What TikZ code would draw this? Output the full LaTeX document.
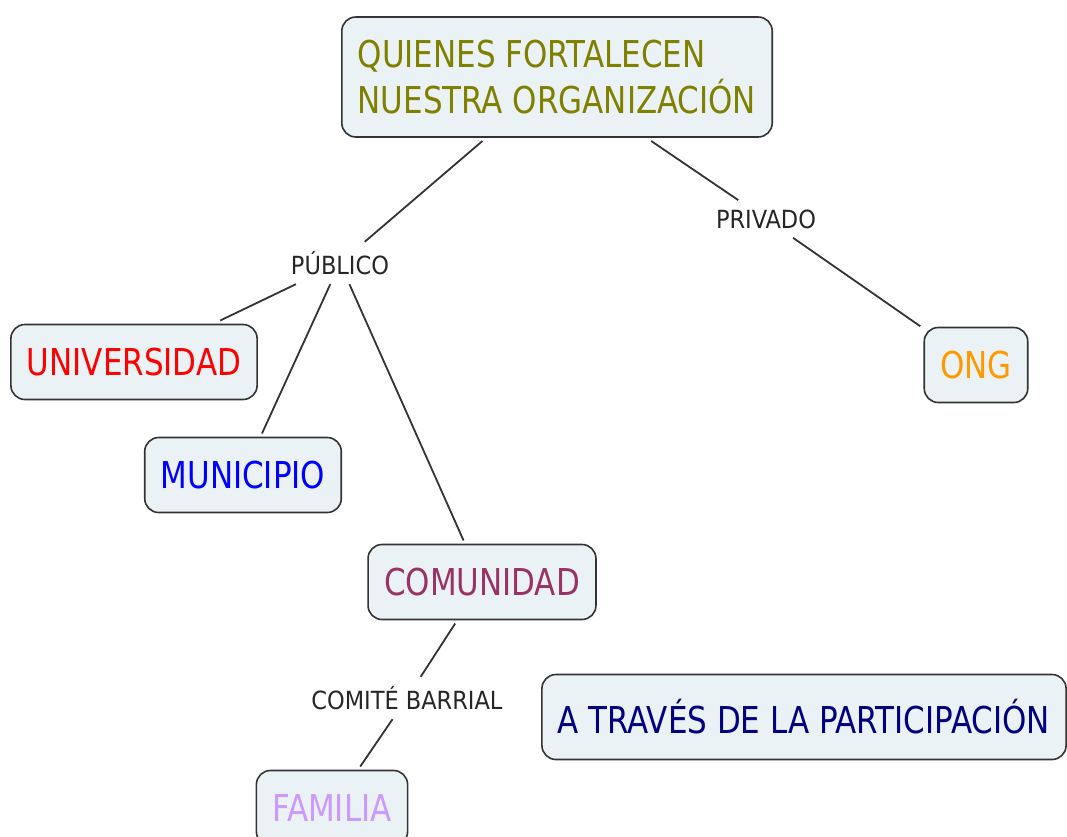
\documentclass[tikz,border=0pt]{standalone}
\usepackage{fontspec}
\setmainfont[FakeStretch=0.93]{DejaVu Sans Condensed}
\newfontfamily\labelfont{DejaVu Sans Condensed}
\usepackage{xcolor}
\usetikzlibrary{positioning}

\definecolor{boxfill}{RGB}{235,242,245}
\definecolor{olivetext}{RGB}{128,128,0}
\definecolor{plumtext}{RGB}{153,51,102}
\definecolor{lilactext}{RGB}{204,153,255}
\definecolor{orangetext}{RGB}{255,153,0}

\begin{document}
\begin{tikzpicture}[x=1pt,y=-1pt,thick,
                    concept/.style={rectangle,rounded corners=14pt,draw=black!80,line width=1.6pt,
                      fill=boxfill,font=\fontsize{37}{46}\selectfont,inner xsep=16pt,
                      minimum height=75pt,outer sep=4pt},
                    link/.style={font=\labelfont\fontsize{25}{30}\selectfont,text=black!85,inner xsep=4pt,inner ysep=9pt}]
\useasboundingbox (0,0) rectangle (1067,836);
\clip (0,0) rectangle (1067,836);

\node[concept,minimum width=429pt,minimum height=120pt,align=left,text=olivetext] (org) at (557,77)
  {QUIENES FORTALECEN\\NUESTRA ORGANIZACIÓN};

\node[link] (pub) at (340,263) {PÚBLICO};
\node[link] (priv) at (766,219) {PRIVADO};

\node[concept,text=red] (uni) at (134,362) {UNIVERSIDAD};
\node[concept,text=blue] (muni) at (243,475) {MUNICIPIO};
\node[concept,text=plumtext] (comu) at (482,582) {COMUNIDAD};
\node[concept,text=orangetext] (ong) at (976,365) {ONG};

\node[link] (comite) at (407,698) {COMITÉ BARRIAL};
\node[concept,text=lilactext] (fam) at (332,808) {FAMILIA};

\node[concept,minimum width=524pt,minimum height=85pt,text=blue!50!black] (part) at (804,717) {A TRAVÉS DE LA PARTICIPACIÓN};

\path[draw=black!80,line width=1.8pt]
  (org) edge (pub)
        edge (priv)
  (priv) edge (ong)
  (pub) edge (uni)
        edge (muni)
        edge (comu)
  (comu) edge (comite)
  (comite) edge (fam);
\end{tikzpicture}
\end{document}
